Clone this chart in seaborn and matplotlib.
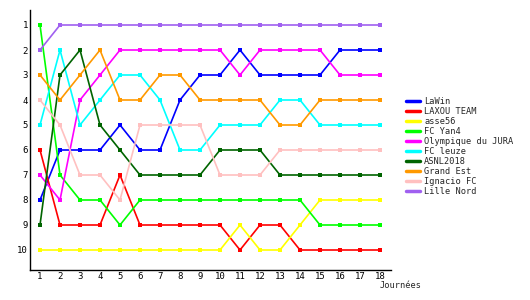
import matplotlib
matplotlib.use("Agg")
import matplotlib.pyplot as plt
import seaborn as sns
import pandas as pd
from matplotlib.lines import Line2D

journees = list(range(1, 19))
teams = ["LaWin", "LAXOU TEAM", "asse56", "FC Yan4", "Olympique du JURA",
         "FC leuze", "ASNL2018", "Grand Est", "Ignacio FC", "Lille Nord"]

lawin      = [8, 6, 6, 6, 5, 6, 6, 4, 3, 3, 2, 3, 3, 3, 3, 2, 2, 2]
laxou      = [6, 9, 9, 9, 7, 9, 9, 9, 9, 9, 10, 9, 9, 10, 10, 10, 10, 10]
asse56     = [10, 10, 10, 10, 10, 10, 10, 10, 10, 10, 9, 10, 10, 9, 8, 8, 8, 8]
fcyan4     = [1, 7, 8, 8, 9, 8, 8, 8, 8, 8, 8, 8, 8, 8, 9, 9, 9, 9]
olympique  = [7, 8, 4, 3, 2, 2, 2, 2, 2, 2, 3, 2, 2, 2, 2, 3, 3, 3]
fcleuze    = [5, 2, 5, 4, 3, 3, 4, 6, 6, 5, 5, 5, 4, 4, 5, 5, 5, 5]
asnl2018   = [9, 3, 2, 5, 6, 7, 7, 7, 7, 6, 6, 6, 7, 7, 7, 7, 7, 7]
grandest   = [3, 4, 3, 2, 4, 4, 3, 3, 4, 4, 4, 4, 5, 5, 4, 4, 4, 4]
ignacio    = [4, 5, 7, 7, 8, 5, 5, 5, 5, 7, 7, 7, 6, 6, 6, 6, 6, 6]
lillenord  = [2, 1, 1, 1, 1, 1, 1, 1, 1, 1, 1, 1, 1, 1, 1, 1, 1, 1]

series = [lawin, laxou, asse56, fcyan4, olympique, fcleuze, asnl2018,
          grandest, ignacio, lillenord]
colors = ["#0000ff", "#ff0000", "#ffff00", "#00ff00", "#ff00ff",
          "#00ffff", "#006400", "#ff9900", "#ffc0c0", "#a060f0"]

y_ticks = list(range(1, 11))

rows = []
for t, vals in zip(teams, series):
    for j, v in zip(journees, vals):
        rows.append({"Journée": j, "Rang": v, "Equipe": t})
df = pd.DataFrame(rows)

sns.set_style("white")
plt.rcParams['font.family'] = ['DejaVu Sans Mono', 'DejaVu Sans']

fig = plt.figure(figsize=(5.3, 3.0), dpi=100)
ax = fig.add_axes([30/530, 30/300, 361/530, 260/300])

sns.lineplot(data=df, x="Journée", y="Rang", hue="Equipe", hue_order=teams,
             palette=dict(zip(teams, colors)), marker="s", markersize=3,
             markeredgewidth=0, linewidth=1.2, ax=ax, legend=False,
             estimator=None, sort=False)

ax.set_xlim(0.5, 18.55)
ax.set_ylim(10.8, 0.4)
ax.set_xticks(journees)
ax.set_yticks(y_ticks)
ax.tick_params(axis="both", length=0, labelsize=6.5, pad=1.5, colors="black")
ax.set_xlabel("")
ax.set_ylabel("")
for s in ["top", "right"]:
    ax.spines[s].set_visible(False)
for s in ["left", "bottom"]:
    ax.spines[s].set_color("black")
    ax.spines[s].set_linewidth(1)

handles = [Line2D([0], [0], color=c, lw=2.5) for c in colors]
fig.legend(handles, teams, loc="upper left", bbox_to_anchor=(406/530, 1 - 97/300),
           frameon=False, fontsize=6.2, handlelength=1.6, handletextpad=0.5,
           labelspacing=0.11, borderpad=0, borderaxespad=0)

fig.text(380/530, 1 - 286/300, "Journées", fontsize=6.2, va="center", ha="left")

fig.savefig("out.png", dpi=100)
